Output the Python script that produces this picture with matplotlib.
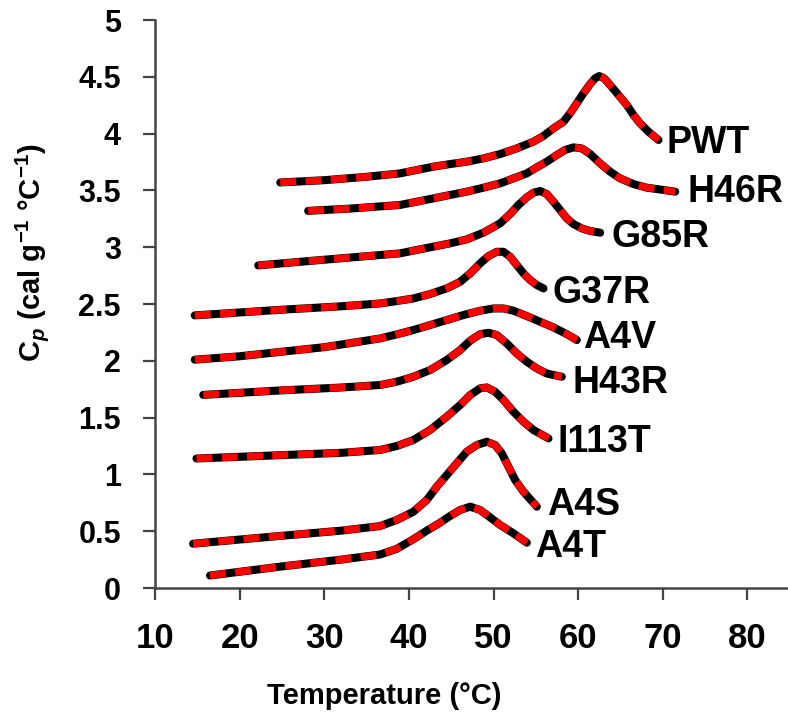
import numpy as np
import matplotlib
matplotlib.use("Agg")
from matplotlib import pyplot as plt

# ------------------------------------------------------------------------------
# Data (temperature in C, Cp in cal/g/C)
# ------------------------------------------------------------------------------
pwtT = [24.8, 30, 35, 38.96, 40.93, 42.90, 44.87, 46.84, 48.81, 50.78, 52.75, 54.72, 55.90, 57.08,
        58.27, 59.05, 59.84, 60.63, 61.42, 62.01, 62.48, 63.07, 63.78, 64.77, 65.75, 66.54, 67.33,
        68.31, 69.50]
pwtCp = [3.57, 3.59, 3.62, 3.650, 3.680, 3.709, 3.732, 3.753, 3.782, 3.820, 3.870, 3.929, 3.979, 4.046,
         4.105, 4.179, 4.267, 4.355, 4.437, 4.487, 4.507, 4.487, 4.428, 4.340, 4.252, 4.164, 4.090,
         4.017, 3.944]

h46rT = [28.1, 33, 38.96, 40.93, 42.90, 44.87, 46.84, 48.81, 50.78, 52.36, 53.93, 55.11, 56.30, 57.48,
         58.46, 59.45, 60.43, 61.42, 62.60, 63.78, 64.96, 66.54, 68.12, 70.09, 71.47]
h46rCp = [3.32, 3.34, 3.372, 3.401, 3.430, 3.460, 3.489, 3.524, 3.562, 3.606, 3.650, 3.703, 3.753, 3.812,
          3.856, 3.879, 3.870, 3.821, 3.738, 3.665, 3.606, 3.556, 3.524, 3.504, 3.489]

g85rT = [22.2, 30, 38.96, 40.93, 42.90, 44.87, 46.84, 48.81, 50.78, 51.96, 52.95, 53.93, 54.72, 55.51,
         56.30, 57.08, 57.87, 58.66, 59.45, 60.43, 61.42, 62.60]
g85rCp = [2.84, 2.89, 2.946, 2.976, 3.005, 3.034, 3.069, 3.128, 3.210, 3.292, 3.372, 3.439, 3.480, 3.495,
          3.468, 3.401, 3.328, 3.254, 3.204, 3.166, 3.143, 3.128]

g37rT = [14.7, 25, 32, 36.60, 38.57, 40.54, 42.51, 44.48, 46.06, 47.24, 48.42, 49.41, 50.39, 51.18,
         51.97, 52.75, 53.54, 54.33, 55.12, 55.91]
g37rCp = [2.40, 2.45, 2.48, 2.505, 2.526, 2.549, 2.588, 2.638, 2.696, 2.769, 2.858, 2.922, 2.960, 2.960,
          2.916, 2.843, 2.770, 2.711, 2.667, 2.637]

a4vT = [14.7, 20, 25, 30, 36.60, 38.57, 40.54, 42.51, 44.48, 46.45, 48.42, 50.00, 51.18, 52.36, 53.94,
        55.51, 57.09, 58.66, 59.85]
a4vCp = [2.01, 2.04, 2.08, 2.12, 2.197, 2.233, 2.271, 2.315, 2.359, 2.403, 2.441, 2.461, 2.461, 2.441,
         2.394, 2.344, 2.294, 2.235, 2.183]

h43rT = [15.7, 25, 32, 36.60, 38.57, 40.54, 42.51, 44.48, 46.06, 47.24, 48.42, 49.41, 50.39, 51.57,
         52.75, 53.94, 55.12, 56.30, 58.07]
h43rCp = [1.70, 1.74, 1.765, 1.787, 1.816, 1.860, 1.919, 2.007, 2.095, 2.177, 2.235, 2.247, 2.227, 2.153,
          2.065, 1.992, 1.933, 1.888, 1.860]

i113tT = [14.9, 25, 32, 36.60, 38.57, 40.54, 42.51, 44.48, 46.06, 47.24, 48.42, 49.21, 50.19, 51.18,
          52.36, 53.54, 54.72, 56.50]
i113tCp = [1.14, 1.17, 1.19, 1.215, 1.250, 1.303, 1.391, 1.508, 1.611, 1.699, 1.758, 1.766, 1.728, 1.655,
           1.552, 1.464, 1.391, 1.317]

a4sT = [14.5, 25, 32, 36.60, 38.57, 40.54, 42.12, 43.30, 44.48, 45.66, 46.84, 48.03, 49.21, 50.19,
        50.98, 51.77, 52.56, 53.54, 55.12]
a4sCp = [0.39, 0.46, 0.505, 0.545, 0.599, 0.672, 0.775, 0.892, 0.995, 1.098, 1.200, 1.259, 1.288, 1.259,
         1.185, 1.068, 0.951, 0.848, 0.716]

a4tT = [16.5, 25, 32, 36.60, 38.57, 40.54, 42.12, 43.69, 44.87, 46.06, 47.24, 48.42, 49.60, 50.78,
        52.36, 53.94]
a4tCp = [0.11, 0.19, 0.25, 0.295, 0.345, 0.430, 0.505, 0.575, 0.634, 0.687, 0.716, 0.687, 0.622, 0.555,
         0.481, 0.399]

names = ['PWT', 'H46R', 'G85R', 'G37R', 'A4V', 'H43R', 'I113T', 'A4S', 'A4T']
labelT = [70.5, 72.9, 64.0, 57.0, 60.6, 59.3, 57.6, 56.3, 54.9]
labelCp = [3.83, 3.40, 3.00, 2.51, 2.11, 1.72, 1.20, 0.64, 0.27]

curves = [(pwtT, pwtCp), (h46rT, h46rCp), (g85rT, g85rCp), (g37rT, g37rCp), (a4vT, a4vCp),
          (h43rT, h43rCp), (i113tT, i113tCp), (a4sT, a4sCp), (a4tT, a4tCp)]

# ------------------------------------------------------------------------------
# Plot
# ------------------------------------------------------------------------------
plt.rcParams['font.family'] = ['Liberation Sans', 'DejaVu Sans']
plt.rcParams['font.weight'] = 'bold'
plt.rcParams['mathtext.fontset'] = 'custom'
plt.rcParams['mathtext.rm'] = 'Liberation Sans:bold'
plt.rcParams['mathtext.it'] = 'Liberation Sans:italic:bold'
plt.rcParams['mathtext.bf'] = 'Liberation Sans:bold'

fig = plt.figure(figsize=(7.88, 7.23), dpi=100)
ax = fig.add_axes([0.1967, 0.1867, 0.8033, 0.7856])

for (t, cp) in curves:
    ax.plot(t, cp, color='black', lw=5.8, solid_capstyle='round', solid_joinstyle='round')
    ax.plot(t, cp, color='#ff0000', lw=5.2, dashes=(2.2, 1.3), dash_capstyle='butt',
            dash_joinstyle='round')

for name, tx, ty in zip(names, labelT, labelCp):
    ax.text(tx, ty, name, fontsize=27, fontweight='bold', ha='left', va='baseline')

ax.set_xlim(10, 84.8)
ax.set_ylim(0, 5)
ax.set_xticks(np.arange(10, 81, 10))
ax.set_yticks(np.arange(0, 5.01, 0.5))
ax.set_yticklabels(['0', '0.5', '1', '1.5', '2', '2.5', '3', '3.5', '4', '4.5', '5'])

for s in ['top', 'right']:
    ax.spines[s].set_visible(False)
for s in ['left', 'bottom']:
    ax.spines[s].set_color('#444444')
    ax.spines[s].set_linewidth(1.8)

ax.tick_params(axis='x', direction='out', length=8.5, width=1.6, color='#444444', pad=16, labelsize=25)
ax.tick_params(axis='y', direction='out', length=8.5, width=1.6, color='#444444', pad=16, labelsize=22)
for lab in ax.get_xticklabels() + ax.get_yticklabels():
    lab.set_fontweight('bold')

ax.set_xlabel('Temperature (°C)', fontsize=21, fontweight='bold')
ax.xaxis.set_label_coords(0.362, -0.165)
ax.set_ylabel(r'C$_{\mathit{p}}$ (cal g$^{\mathbf{-1}}$ °C$^{\mathbf{-1}}$)', fontsize=21, fontweight='bold')
ax.yaxis.set_label_coords(-0.165, 0.59)

fig.savefig('out.png', dpi=100)
